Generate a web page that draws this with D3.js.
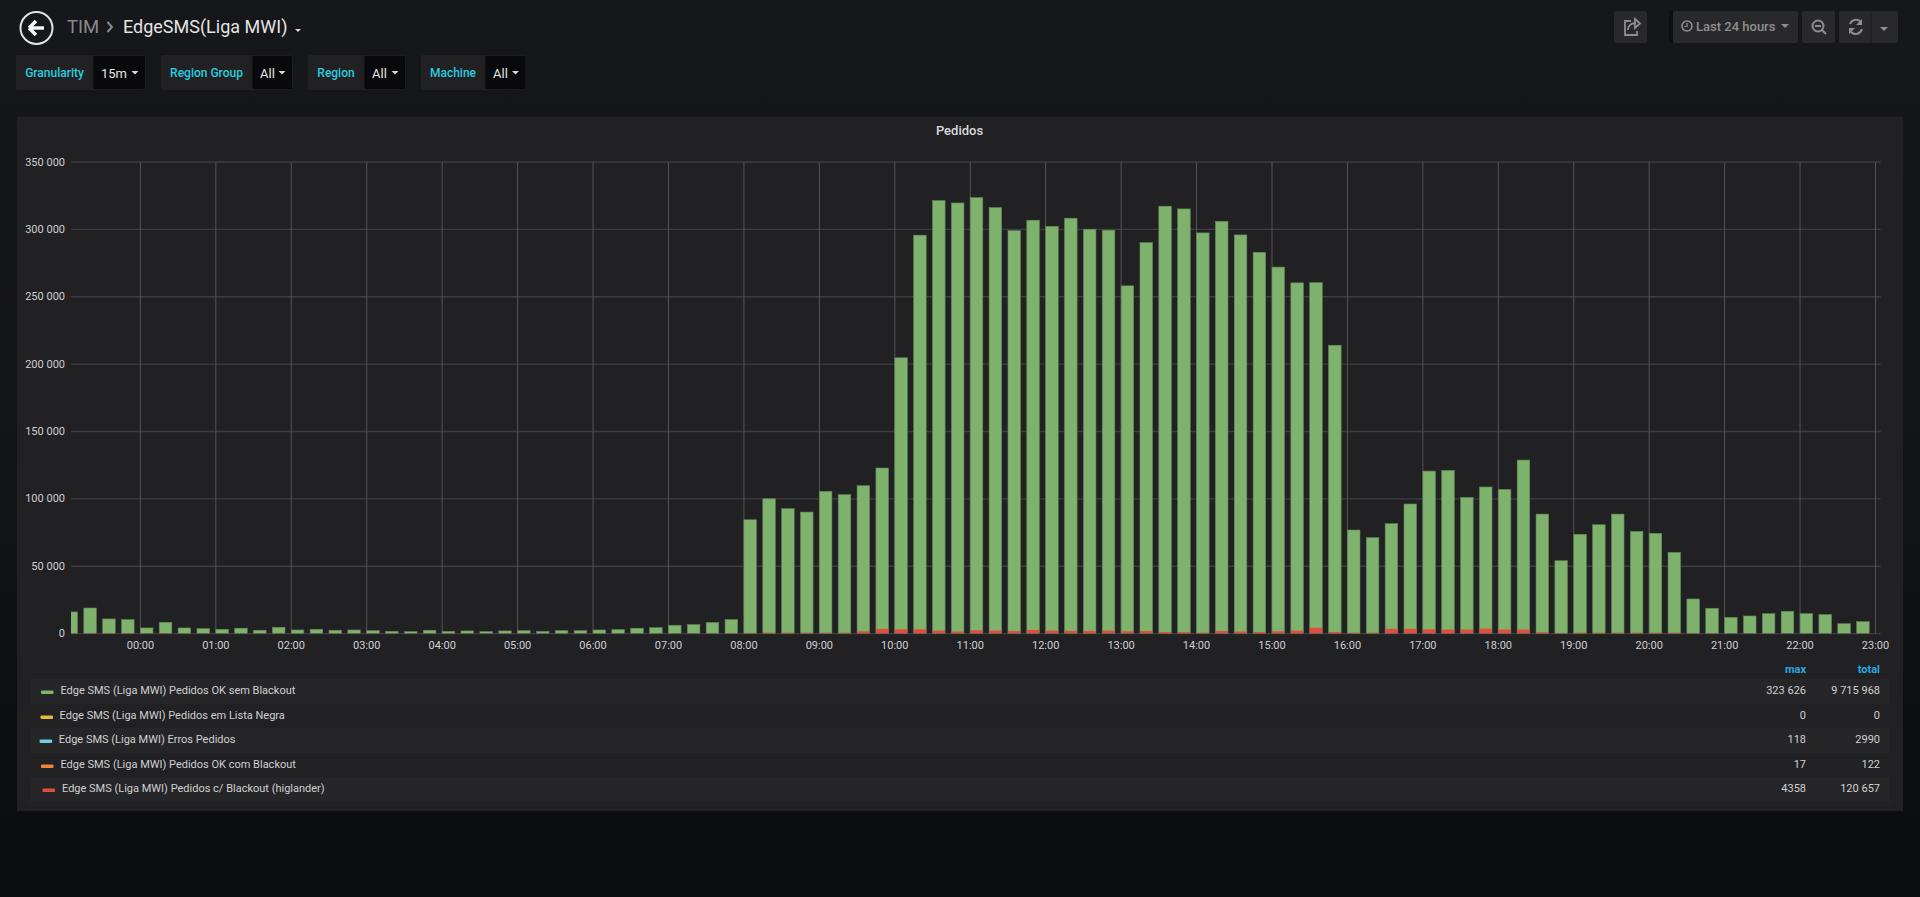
<!DOCTYPE html>
<html>
<head>
<meta charset="utf-8">
<title>EdgeSMS(Liga MWI)</title>
<script src="https://d3js.org/d3.v7.min.js" charset="utf-8"></script>
<style>
    html, body { margin: 0; padding: 0; height: 100%; overflow: hidden; }
    body {
        background: linear-gradient(#16171a 0%, #141518 45%, #0b0c0e 100%);
        font-family: Roboto, sans-serif;
    }
    svg { position: absolute; left: 0; top: 0; display: block; }
    text { font-family: Roboto, sans-serif; }
    .tick text { fill: #cfd0d1; font-size: 11px; font-family: Roboto, sans-serif; }
    .domain { display: none; }
</style>
</head>
<body>
<script>
// 23:00 of the day before up to 22:45, one value every 15 minutes
var pedidosOk = [16100, 19000, 10900, 10400, 4200, 8400, 4200, 3700, 3200, 4000, 2500, 4700,
    2700, 3200, 2500, 2700, 2200, 1700, 1500, 2500, 1700, 2000, 1500, 2000,
    2200, 1700, 2200, 2200, 2700, 3000, 4000, 4400, 6200, 6700, 8200, 10400,
    84500, 100100, 92700, 90200, 105600, 103100, 109800, 122900,
    204700, 295700, 321400, 319600, 323626, 316200, 299100, 306800,
    302300, 308300, 300100, 299400, 258100, 290200, 317200, 315200,
    297400, 306000, 295900, 283000, 272000, 260300, 260500, 214000,
    76900, 71200, 81600, 96200, 120600, 121100, 101100, 108800,
    107000, 128800, 88700, 54100, 73700, 80800, 88700, 75900,
    74400, 60300, 25700, 18800, 12100, 13100, 14800, 16600, 14800, 14100, 7400, 8900];

var pedidosBlackout = [300, 300, 300, 300, 100, 200, 100, 100, 100, 100, 100, 100,
    100, 100, 100, 100, 100, 100, 100, 100, 100, 100, 100, 100,
    100, 100, 100, 100, 100, 100, 100, 100, 100, 200, 200, 300,
    500, 700, 700, 700, 700, 700, 1700, 3500,
    3200, 3200, 2200, 1500, 2500, 2200, 2000, 2700,
    2200, 2000, 2000, 2200, 1700, 2000, 1200, 1200,
    700, 2000, 1500, 1200, 1700, 2200, 4358, 1200,
    700, 700, 3500, 3500, 3200, 3000, 3000, 3700,
    3000, 3000, 1000, 500, 700, 700, 700, 700,
    700, 700, 300, 300, 200, 200, 200, 200, 200, 200, 200, 200];

var yTicks = [0, 50000, 100000, 150000, 200000, 250000, 300000, 350000];
var xTickHours = [0, 1, 2, 3, 4, 5, 6, 7, 8, 9, 10, 11, 12, 13, 14, 15, 16, 17, 18, 19, 20, 21, 22, 23];

var legendNames = ["Edge SMS (Liga MWI) Pedidos OK sem Blackout",
    "Edge SMS (Liga MWI) Pedidos em Lista Negra",
    "Edge SMS (Liga MWI) Erros Pedidos",
    "Edge SMS (Liga MWI) Pedidos OK com Blackout",
    "Edge SMS (Liga MWI) Pedidos c/ Blackout (higlander)"];
var legendColors = ["#7eb26d", "#eab839", "#6ed0e0", "#ef843c", "#e24d42"];
var legendMax = ["323 626", "0", "118", "17", "4358"];
var legendTotal = ["9 715 968", "0", "2990", "122", "120 657"];

var variableNames = ["Granularity", "Region Group", "Region", "Machine"];
var variableValues = ["15m", "All", "All", "All"];

var width = 1920;
var height = 897;

var svg = d3.select("body").append("svg")
    .attr("width", width)
    .attr("height", height);

// ---- header ----
var header = svg.append("g");

header.append("circle")
    .attr("cx", 36.5).attr("cy", 28).attr("r", 16)
    .attr("fill", "none").attr("stroke", "#e3e4e4").attr("stroke-width", 2);
header.append("path")
    .attr("d", "M29 28 L36 21 M29 28 L36 35 M29 28 L44 28")
    .attr("fill", "none").attr("stroke", "#f2f3f3").attr("stroke-width", 3.4);

header.append("text").attr("x", 67).attr("y", 33)
    .attr("fill", "#8a8a8d").attr("font-size", 18.5).text("TIM");
header.append("path")
    .attr("d", "M107.5 22 L112 27 L107.5 32")
    .attr("fill", "none").attr("stroke", "#8a8a8d").attr("stroke-width", 2);
header.append("text").attr("x", 123).attr("y", 33)
    .attr("fill", "#e3e4e4").attr("font-size", 18).text("EdgeSMS(Liga MWI)");
header.append("path").attr("d", "M295 29 h6 l-3 3 z").attr("fill", "#d8d9da");

// top right buttons
var buttons = [[1614, 33], [1673, 125], [1802, 33], [1839, 59]];
header.selectAll("rect.btn")
    .data(buttons)
    .enter()
    .append("rect")
    .attr("class", "btn")
    .attr("x", function(d) { return d[0]; })
    .attr("y", 11)
    .attr("width", function(d) { return d[1]; })
    .attr("height", 32)
    .attr("rx", 2)
    .attr("fill", "#29292c");
header.append("rect").attr("x", 1669).attr("y", 11).attr("width", 4).attr("height", 32).attr("fill", "#0d0e10");
header.append("line").attr("x1", 1871).attr("x2", 1871).attr("y1", 11).attr("y2", 43).attr("stroke", "#1e1f21");

var iconColor = "#8e8e90";
// share
header.append("path")
    .attr("d", "M1631 21 h-6 v14 h12 v-4 M1628 30 c0 -4 3 -7 8 -7 M1635 19 l5 4.5 l-5 4.5 z")
    .attr("fill", "none").attr("stroke", iconColor).attr("stroke-width", 1.8);
// clock
header.append("circle").attr("cx", 1687).attr("cy", 26).attr("r", 5)
    .attr("fill", "none").attr("stroke", iconColor).attr("stroke-width", 1.6);
header.append("path").attr("d", "M1687 23 v3.5 h-2.5")
    .attr("fill", "none").attr("stroke", iconColor).attr("stroke-width", 1.2);
header.append("text").attr("x", 1696).attr("y", 31)
    .attr("fill", iconColor).attr("font-size", 13).attr("font-weight", 500).text("Last 24 hours");
header.append("path").attr("d", "M1781 24 h8 l-4 4 z").attr("fill", iconColor);
// zoom out
header.append("circle").attr("cx", 1818).attr("cy", 26).attr("r", 5.5)
    .attr("fill", "none").attr("stroke", iconColor).attr("stroke-width", 2);
header.append("path").attr("d", "M1815 26 h6 M1822 30 l4 4")
    .attr("fill", "none").attr("stroke", iconColor).attr("stroke-width", 2);
// refresh
header.append("path")
    .attr("d", "M1850 24 a6.5 6.5 0 0 1 11 -2 M1862 29 a6.5 6.5 0 0 1 -11 3")
    .attr("fill", "none").attr("stroke", iconColor).attr("stroke-width", 2);
header.append("path").attr("d", "M1862 19 v6 h-6 z M1849 34 v-6 h6 z").attr("fill", iconColor);
header.append("path").attr("d", "M1880 27 h8 l-4 4 z").attr("fill", iconColor);

// ---- template variables ----
var boxes = [[16, 93, 145.5], [161, 252, 292.5], [308, 364, 405.5], [421, 485, 526]];
var vars = svg.append("g").selectAll("g")
    .data(variableNames)
    .enter()
    .append("g");

vars.append("rect")
    .attr("x", function(d, i) { return boxes[i][0]; })
    .attr("y", 55)
    .attr("width", function(d, i) { return boxes[i][2] - boxes[i][0]; })
    .attr("height", 35)
    .attr("rx", 2)
    .attr("fill", "#212124");
vars.append("rect")
    .attr("x", function(d, i) { return boxes[i][1]; })
    .attr("y", 55.5)
    .attr("width", function(d, i) { return boxes[i][2] - boxes[i][1]; })
    .attr("height", 34)
    .attr("rx", 2)
    .attr("fill", "#09090b")
    .attr("stroke", "#1c1d1f");
vars.append("text")
    .attr("x", function(d, i) { return (boxes[i][0] + boxes[i][1]) / 2; })
    .attr("y", 77)
    .attr("text-anchor", "middle")
    .attr("fill", "#2bcbde")
    .attr("font-size", 12)
    .attr("font-weight", 500)
    .text(function(d) { return d; });
vars.append("text")
    .attr("x", function(d, i) { return boxes[i][1] + 8; })
    .attr("y", 78)
    .attr("fill", "#e3e4e4")
    .attr("font-size", 13)
    .text(function(d, i) { return variableValues[i]; });
vars.append("path")
    .attr("d", function(d, i) {
        var x = boxes[i][2] - 14;
        return "M" + x + " 71 h7 l-3.5 3.5 z";
    })
    .attr("fill", "#d8d9da");

// ---- panel ----
svg.append("rect")
    .attr("x", 17).attr("y", 117)
    .attr("width", 1886).attr("height", 694)
    .attr("fill", "#212124");

svg.append("text")
    .attr("x", 959.5).attr("y", 135)
    .attr("text-anchor", "middle")
    .attr("fill", "#d8d9da")
    .attr("font-size", 13)
    .attr("font-weight", 500)
    .text("Pedidos");

var plot = { left: 71, right: 1880.7, top: 162, bottom: 633.6 };

var day = new Date(2019, 0, 2, 0, 0);
var first = d3.timeMinute.offset(day, -60);   // 23:00 the evening before

// 00:00 sits at x=140.4, 23:00 at x=1875.5
var x = d3.scaleTime()
    .domain([day, d3.timeHour.offset(day, 23)])
    .range([140.4, 1875.5]);

var y = d3.scaleLinear()
    .domain([0, 350000])
    .range([plot.bottom, plot.top]);

var locale = d3.formatLocale({ decimal: ".", thousands: " ", grouping: [3], currency: ["", ""] });

var yg = svg.append("g")
    .attr("transform", "translate(" + plot.left + ",0)")
    .call(d3.axisLeft(y)
        .tickValues(yTicks)
        .tickFormat(locale.format(","))
        .tickSize(0)
        .tickPadding(6)
        .offset(0));
yg.selectAll(".tick line")
    .attr("x2", plot.right - plot.left)
    .attr("stroke", "#3e3e41")
    .attr("stroke-width", 1.4);

var xTickDates = xTickHours.map(function(h) { return d3.timeHour.offset(day, h); });

var xg = svg.append("g")
    .attr("transform", "translate(0," + plot.bottom + ")")
    .call(d3.axisBottom(x)
        .tickValues(xTickDates)
        .tickFormat(d3.timeFormat("%H:%M"))
        .tickSize(0)
        .tickPadding(8)
        .offset(0));
xg.selectAll(".tick line")
    .attr("y2", plot.top - plot.bottom)
    .attr("stroke", "#545456")
    .attr("stroke-width", 1);

svg.append("clipPath").attr("id", "plotclip")
    .append("rect")
    .attr("x", plot.left).attr("y", plot.top)
    .attr("width", plot.right - plot.left)
    .attr("height", plot.bottom - plot.top);

var barWidth = (x(d3.timeMinute.offset(day, 15)) - x(day)) * 2 / 3;
var barTime = function(i) { return d3.timeMinute.offset(first, i * 15); };

var bars = svg.append("g").attr("clip-path", "url(#plotclip)");

bars.selectAll("rect.ok")
    .data(pedidosOk)
    .enter()
    .append("rect")
    .attr("class", "ok")
    .attr("x", function(d, i) { return x(barTime(i)); })
    .attr("y", function(d) { return y(d); })
    .attr("width", barWidth)
    .attr("height", function(d) { return y(0) - y(d); })
    .attr("fill", "#7eb26d")
    .attr("stroke", "#5f8653")
    .attr("stroke-width", 0.6);

bars.selectAll("rect.blackout")
    .data(pedidosBlackout)
    .enter()
    .append("rect")
    .attr("class", "blackout")
    .attr("x", function(d, i) { return x(barTime(i)); })
    .attr("y", function(d) { return y(d); })
    .attr("width", barWidth)
    .attr("height", function(d) { return y(0) - y(d); })
    .attr("fill", "#e24d42");

// ---- legend table ----
var rowTop = [679, 704, 728, 753, 777];
var rowHeight = [25, 24, 25, 24, 25];
var rowBand = [true, false, true, false, true];
var swatchX = [41, 40.5, 39.6, 41, 42.5];
var textX = [60.4, 59.6, 58.8, 60.4, 62];

var legend = svg.append("g");

legend.append("text").attr("x", 1806).attr("y", 673)
    .attr("text-anchor", "end").attr("fill", "#2aa8e0")
    .attr("font-size", 11).attr("font-weight", 700).text("max");
legend.append("text").attr("x", 1880).attr("y", 673)
    .attr("text-anchor", "end").attr("fill", "#2aa8e0")
    .attr("font-size", 11).attr("font-weight", 700).text("total");

var rows = legend.selectAll("g.row")
    .data(legendNames)
    .enter()
    .append("g")
    .attr("class", "row");

rows.append("rect")
    .attr("x", 30)
    .attr("y", function(d, i) { return rowTop[i]; })
    .attr("width", 1860)
    .attr("height", function(d, i) { return rowHeight[i]; })
    .attr("fill", function(d, i) { return rowBand[i] ? "#262628" : "#212124"; });
rows.append("rect")
    .attr("x", function(d, i) { return swatchX[i]; })
    .attr("y", function(d, i) { return rowTop[i] + 11.5; })
    .attr("width", 12.5)
    .attr("height", 3.5)
    .attr("rx", 1)
    .attr("fill", function(d, i) { return legendColors[i]; });
rows.append("text")
    .attr("x", function(d, i) { return textX[i]; })
    .attr("y", function(d, i) { return rowTop[i] + 15; })
    .attr("fill", "#cfd0d1")
    .attr("font-size", 11)
    .text(function(d) { return d; });
rows.append("text")
    .attr("x", 1806)
    .attr("y", function(d, i) { return rowTop[i] + 15; })
    .attr("text-anchor", "end")
    .attr("fill", "#cfd0d1")
    .attr("font-size", 11)
    .text(function(d, i) { return legendMax[i]; });
rows.append("text")
    .attr("x", 1880)
    .attr("y", function(d, i) { return rowTop[i] + 15; })
    .attr("text-anchor", "end")
    .attr("fill", "#cfd0d1")
    .attr("font-size", 11)
    .text(function(d, i) { return legendTotal[i]; });
</script>
</body>
</html>
